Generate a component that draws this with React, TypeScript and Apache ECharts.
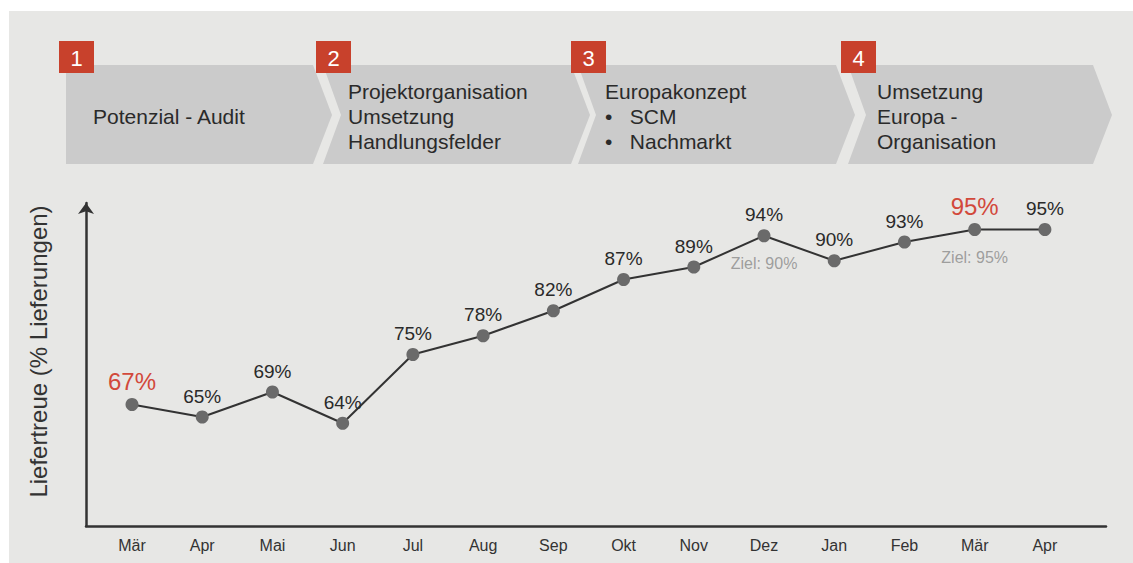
import React, { useEffect, useRef } from "react";
import * as echarts from "echarts";

const months = ["Mär", "Apr", "Mai", "Jun", "Jul", "Aug", "Sep", "Okt", "Nov", "Dez", "Jan", "Feb", "Mär", "Apr"];
const values = [67, 65, 69, 64, 75, 78, 82, 87, 89, 94, 90, 93, 95, 95];
const highlightIdx = [0, 12];
const zielIdx = [9, 12];
const zielTargets = [90, 95];
const phaseNumbers = ["1", "2", "3", "4"];
const phaseLines = [
  ["Potenzial - Audit"],
  ["Projektorganisation", "Umsetzung", "Handlungsfelder"],
  ["Europakonzept", "•   SCM", "•   Nachmarkt"],
  ["Umsetzung", "Europa -", "Organisation"],
];
const yAxisTitle = "Liefertreue (% Lieferungen)";

const FONT = "'Helvetica Neue', 'Liberation Sans', Arial, sans-serif";
const RED = "#c8412c";

// banner layout (decoration)
const chevrons = [
  { left: 66, right: 313, notch: 0, textX: 93 },
  { left: 323, right: 571, notch: 18, textX: 348 },
  { left: 578, right: 836, notch: 18, textX: 605 },
  { left: 848, right: 1093, notch: 18, textX: 877 },
];
const CH_TOP = 65;
const CH_BOT = 164;
const CH_MID = 115;
const TIP = 19;

export default function App() {
  const ref = useRef<HTMLDivElement>(null);
  useEffect(() => {
    if (!ref.current) return;
    const chart = echarts.init(ref.current, undefined, { renderer: "svg" });

    const graphics: any[] = [
      { type: "rect", shape: { x: 9, y: 11, width: 1124, height: 552 }, style: { fill: "#e7e7e5" }, z: -10 },
    ];
    chevrons.forEach((c, i) => {
      const pts = [
        [c.left, CH_TOP],
        [c.right, CH_TOP],
        [c.right + TIP, CH_MID],
        [c.right, CH_BOT],
        [c.left, CH_BOT],
      ];
      if (c.notch) pts.push([c.left + c.notch, CH_MID]);
      graphics.push({ type: "polygon", shape: { points: pts }, style: { fill: "#cbcbcb" }, z: -5 });
      const bx = c.left - 7;
      graphics.push({ type: "rect", shape: { x: bx, y: 41, width: 35, height: 32 }, style: { fill: RED }, z: -4 });
      graphics.push({
        type: "text",
        x: bx + 17.5,
        y: 58,
        style: { text: phaseNumbers[i], fill: "#fff", font: `22px ${FONT}`, align: "center", verticalAlign: "middle" },
        z: -3,
      });
      const lines = phaseLines[i];
      const start = lines.length === 1 ? 116 : 91;
      lines.forEach((t, k) => {
        graphics.push({
          type: "text",
          x: c.textX,
          y: start + k * 25,
          style: { text: t, fill: "#2a2a2a", font: `21px ${FONT}`, align: "left", verticalAlign: "middle" },
          z: -3,
        });
      });
    });

    const lineData = values.map((v, i) => {
      const hi = highlightIdx.includes(i);
      return {
        value: [i, v],
        label: hi ? { color: "#d2493b", fontSize: 24 } : undefined,
      };
    });

    const zielData = zielIdx.map((idx, k) => ({
      value: [idx, values[idx]],
      label: { formatter: `Ziel: ${zielTargets[k]}%` },
    }));

    chart.setOption({
      animation: false,
      backgroundColor: "#ffffff",
      textStyle: { fontFamily: FONT },
      graphic: graphics,
      grid: { left: 86, top: 203, width: 1020, height: 323, containLabel: false },
      xAxis: {
        type: "value",
        min: -0.655,
        max: 13.87,
        axisLine: { show: true, onZero: false, lineStyle: { color: "#333", width: 2.5 } },
        axisTick: { show: false },
        splitLine: { show: false },
        axisLabel: {
          customValues: months.map((_, i) => i),
          formatter: (v: number) => months[Math.round(v)] ?? "",
          color: "#333",
          fontSize: 16,
          margin: 11,
          fontFamily: FONT,
        },
      },
      yAxis: {
        type: "value",
        min: 47.56,
        max: 99.24,
        name: yAxisTitle,
        nameLocation: "middle",
        nameRotate: 90,
        nameGap: 36,
        nameTextStyle: { color: "#333", fontSize: 24, fontFamily: FONT, padding: [0, 0, 0, 26] },
        axisLine: {
          show: true,
          onZero: false,
          symbol: ["none", "arrow"],
          symbolSize: [12, 11],
          lineStyle: { color: "#333", width: 2.5 },
        },
        axisTick: { show: false },
        axisLabel: { show: false },
        splitLine: { show: false },
      },
      series: [
        {
          type: "line",
          data: lineData,
          symbol: "circle",
          symbolSize: 13,
          lineStyle: { color: "#333", width: 2 },
          itemStyle: { color: "#6a6a6a" },
          label: {
            show: true,
            position: "top",
            distance: 5,
            formatter: (p: any) => `${p.value[1]}%`,
            color: "#2a2a2a",
            fontSize: 19,
            fontFamily: FONT,
          },
          z: 3,
        },
        {
          type: "scatter",
          data: zielData,
          symbolSize: 13,
          itemStyle: { color: "rgba(0,0,0,0)" },
          label: {
            show: true,
            position: "bottom",
            distance: 13,
            color: "#8a8a8a",
            fontSize: 16,
            fontFamily: FONT,
          },
          silent: true,
          z: 2,
        },
      ],
    });
    return () => chart.dispose();
  }, []);
  return (
    <div
      ref={ref}
      style={{ position: "absolute", left: 0, top: 0, width: 1133, height: 563 }}
    />
  );
}
